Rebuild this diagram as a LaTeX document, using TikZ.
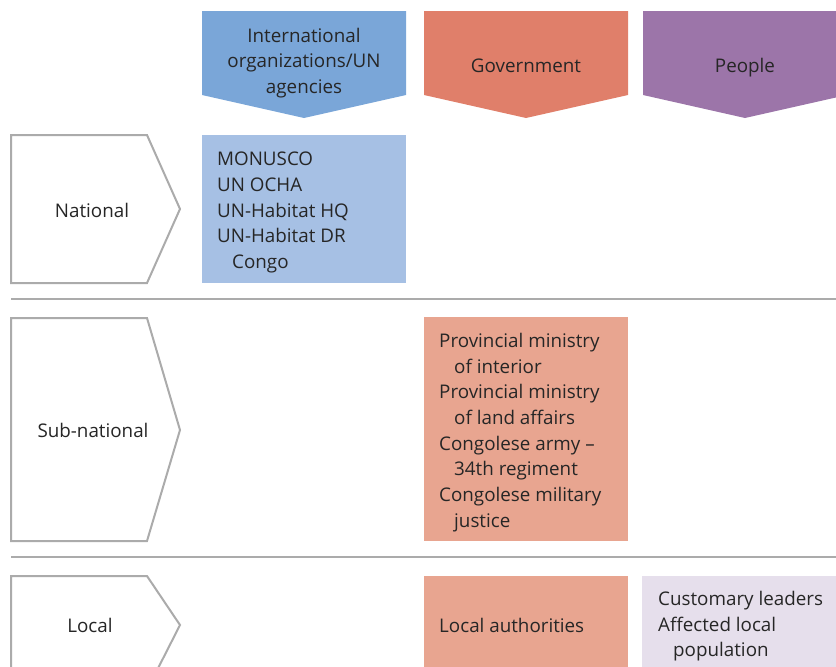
\documentclass[tikz,border=0pt]{standalone}
\usepackage{fontspec}
\setmainfont{Open Sans}
\usepackage{tikz}

\definecolor{intlblue}{HTML}{7AA6D8}
\definecolor{intllight}{HTML}{A6C0E4}
\definecolor{govred}{HTML}{E07F6A}
\definecolor{govlight}{HTML}{E8A590}
\definecolor{peoplepurple}{HTML}{9C75A9}
\definecolor{peoplelight}{HTML}{E6DFEC}
\definecolor{linegray}{HTML}{ABABAB}
\definecolor{textgray}{HTML}{262626}

\tikzset{
  level/.style={draw=linegray, line width=2pt, fill=white},
  sep/.style={draw=linegray, line width=2.5pt},
  txt/.style={text=textgray, font=\fontsize{18.8}{25.7}\selectfont, inner sep=0pt},
  list/.style={txt, align=left, anchor=north west}
}

\begin{document}
\begin{tikzpicture}[x=1pt,y=-1pt]
    \useasboundingbox (0,0) rectangle (836,667);
    \clip (0,0) rectangle (836,667);

    % column headers
    \fill[intlblue] (202,11) -- (406,11) -- (406,95) -- (304,118) -- (202,95) -- cycle;
    \fill[govred] (424,11) -- (628,11) -- (628,95) -- (526,118) -- (424,95) -- cycle;
    \fill[peoplepurple] (643,11) -- (847,11) -- (847,95) -- (745,118) -- (643,95) -- cycle;
    \node[txt, align=center] (intl) at (304,63) {International\\organizations/UN\\agencies};
    \node[txt] (gov) at (526,66) {Government};
    \node[txt] (people) at (745,68) {People};

    % levels
    \draw[level] (11,135) -- (147,135) -- (180,209) -- (147,283) -- (11,283) -- cycle;
    \draw[level] (11,318) -- (147,318) -- (180,430) -- (147,541) -- (11,541) -- cycle;
    \draw[level] (11,576) -- (147,576) -- (180,625) -- (147,690) -- (11,690) -- cycle;
    \node[txt] (national) at (92,210) {National};
    \node[txt] (subnational) at (93,430) {Sub-national};
    \node[txt] (local) at (90,625) {Local};

    % separators
    \draw[sep] (11,299) -- (836,299);
    \draw[sep] (11,557) -- (836,557);

    % boxes
    \fill[intllight] (202,135) rectangle (406,283);
    \fill[govlight] (424,317) rectangle (628,541);
    \fill[govlight] (424,576) rectangle (628,680);
    \fill[peoplelight] (642,576) rectangle (850,680);

    \node[list] (natbox) at (217,152) {MONUSCO\\UN OCHA\\UN-Habitat HQ\\UN-Habitat DR\\\hspace*{15pt}Congo};
    \node[list] (provbox) at (439,333) {Provincial ministry\\\hspace*{15pt}of interior\\Provincial ministry\\\hspace*{15pt}of land affairs\\Congolese army --\\\hspace*{15pt}34th regiment\\Congolese military\\\hspace*{15pt}justice};
    \node[txt, anchor=west] (localauth) at (439,625) {Local authorities};
    \node[list] (custbox) at (658,591) {Customary leaders\\Affected local\\\hspace*{15pt}population};

\end{tikzpicture}
\end{document}
